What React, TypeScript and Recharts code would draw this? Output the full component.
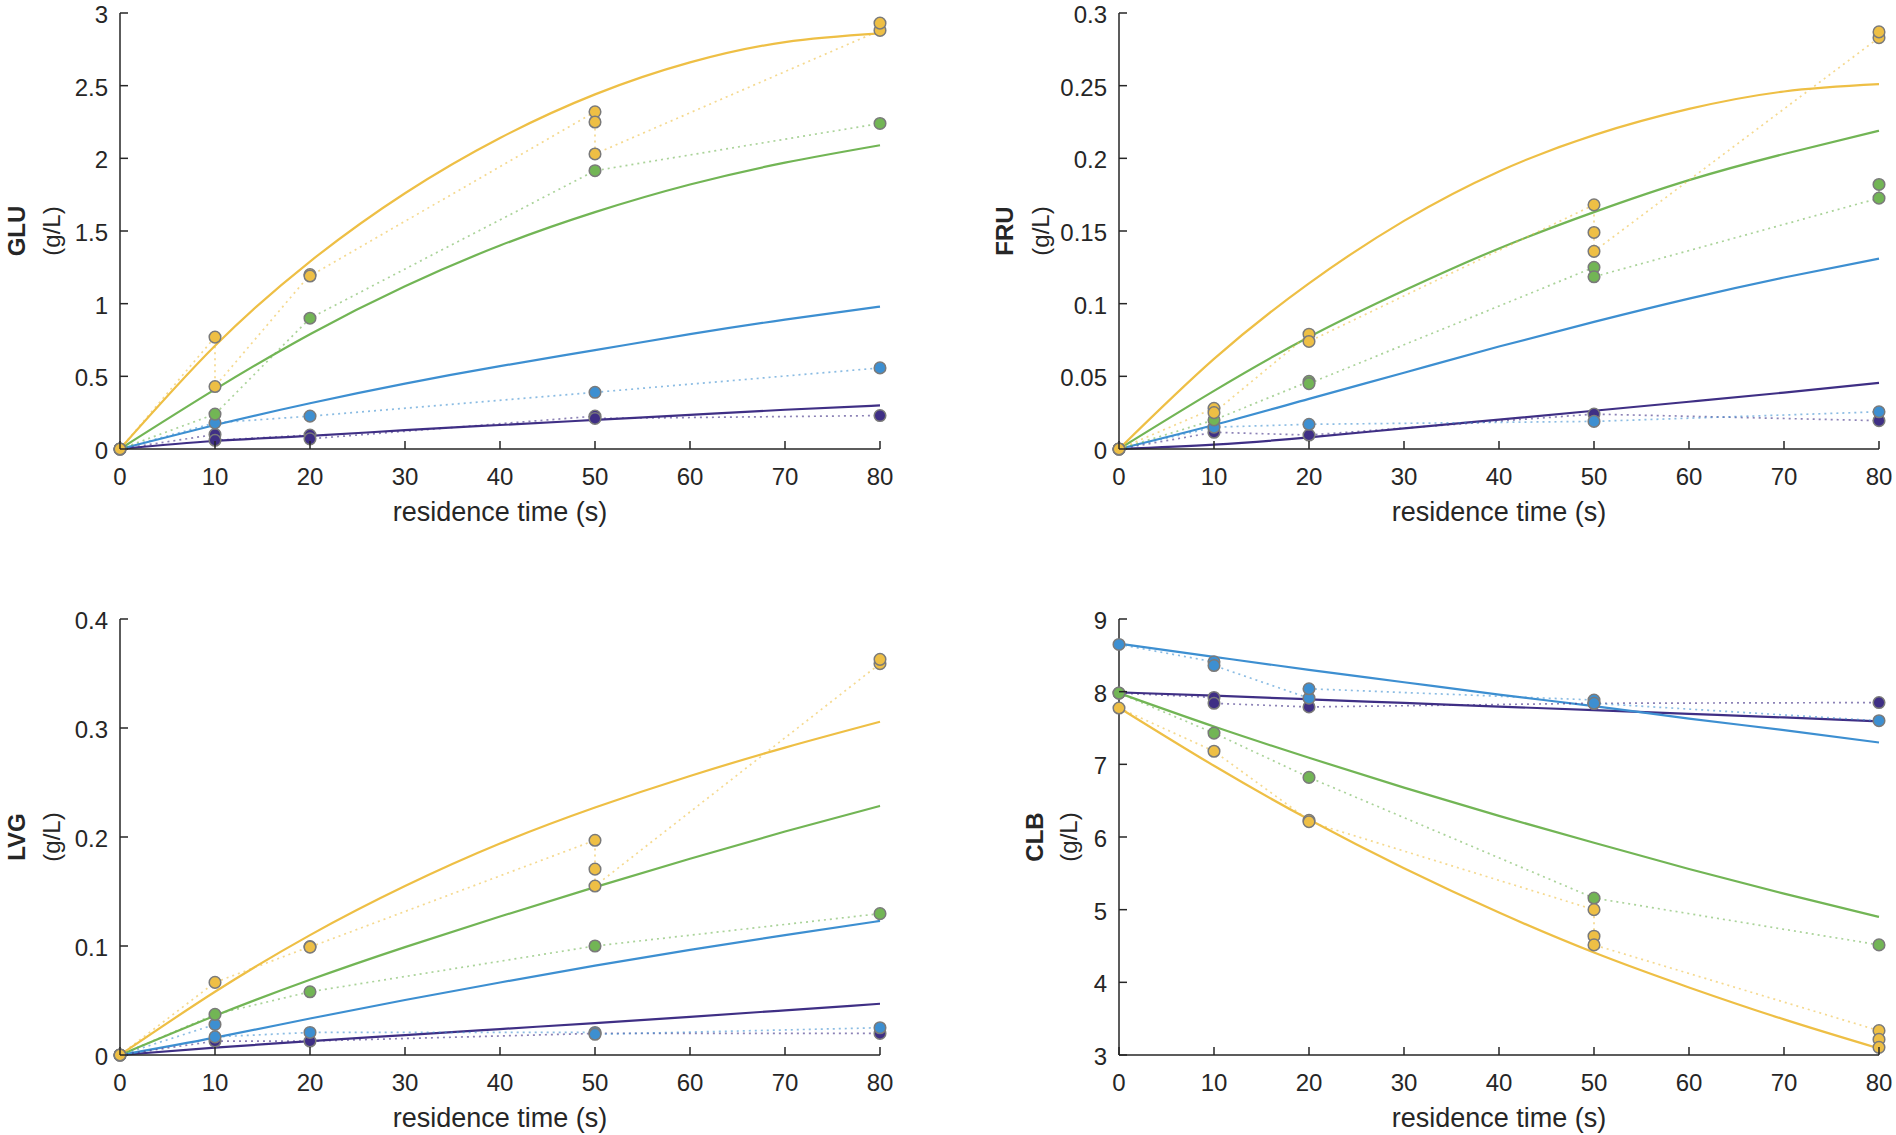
import { ComposedChart, Line, Scatter, XAxis, YAxis } from "recharts";

const FONT = "'Liberation Sans', Arial, Helvetica, sans-serif";
const INK = "#262626";

const COLORS: Record<string, string> = {
  purple: "#3F2F85",
  blue: "#3D8FD1",
  green: "#72B555",
  yellow: "#EEBF45",
};
const ORDER = ["purple", "blue", "green", "yellow"];

// model curves are read every 10 s
const fitTimes = [0, 10, 20, 30, 40, 50, 60, 70, 80];
const timeTicks = [0, 10, 20, 30, 40, 50, 60, 70, 80];

// ---- GLU ----
const gluTicks = [0, 0.5, 1, 1.5, 2, 2.5, 3];
const gluFitPurple = [0, 0.055, 0.09, 0.13, 0.165, 0.2, 0.235, 0.27, 0.3];
const gluFitBlue = [0, 0.165, 0.315, 0.45, 0.57, 0.68, 0.79, 0.89, 0.98];
const gluFitGreen = [0, 0.41, 0.79, 1.12, 1.4, 1.63, 1.82, 1.97, 2.09];
const gluFitYellow = [0, 0.71, 1.29, 1.76, 2.14, 2.44, 2.66, 2.8, 2.86];
const gluObsPurple = [[0, 0], [10, 0.1], [10, 0.06], [20, 0.096], [20, 0.07], [50, 0.226], [50, 0.21], [80, 0.23]];
const gluObsBlue = [[0, 0], [10, 0.18], [20, 0.226], [50, 0.39], [80, 0.558]];
const gluObsGreen = [[0, 0], [10, 0.24], [20, 0.9], [50, 1.915], [80, 2.24]];
const gluObsYellow = [[0, 0], [10, 0.77], [10, 0.43], [20, 1.2], [20, 1.19], [50, 2.32], [50, 2.25], [50, 2.03], [80, 2.88], [80, 2.93]];

// ---- FRU ----
const fruTicks = [0, 0.05, 0.1, 0.15, 0.2, 0.25, 0.3];
const fruFitPurple = [0, 0.003, 0.008, 0.0142, 0.0202, 0.0263, 0.0325, 0.0388, 0.0455];
const fruFitBlue = [0, 0.0165, 0.0345, 0.0525, 0.0705, 0.0875, 0.1035, 0.118, 0.131];
const fruFitGreen = [0, 0.04, 0.077, 0.109, 0.138, 0.163, 0.185, 0.203, 0.219];
const fruFitYellow = [0, 0.062, 0.114, 0.157, 0.191, 0.216, 0.234, 0.246, 0.251];
const fruObsPurple = [[0, 0], [10, 0.0115], [20, 0.0096], [50, 0.024], [80, 0.0195]];
const fruObsBlue = [[0, 0], [10, 0.015], [20, 0.017], [50, 0.019], [80, 0.0256]];
const fruObsGreen = [[0, 0], [10, 0.02], [20, 0.0465], [20, 0.045], [50, 0.125], [50, 0.1185], [80, 0.1726], [80, 0.182]];
const fruObsYellow = [[0, 0], [10, 0.028], [10, 0.025], [20, 0.079], [20, 0.074], [50, 0.168], [50, 0.149], [50, 0.136], [80, 0.283], [80, 0.287]];

// ---- LVG ----
const lvgTicks = [0, 0.1, 0.2, 0.3, 0.4];
const lvgFitPurple = [0, 0.0067, 0.0128, 0.0183, 0.0238, 0.0293, 0.035, 0.041, 0.047];
const lvgFitBlue = [0, 0.016, 0.0335, 0.0505, 0.0665, 0.082, 0.0965, 0.11, 0.123];
const lvgFitGreen = [0, 0.036, 0.069, 0.099, 0.127, 0.154, 0.18, 0.205, 0.2285];
const lvgFitYellow = [0, 0.058, 0.11, 0.155, 0.194, 0.227, 0.256, 0.282, 0.3057];
const lvgObsPurple = [[0, 0], [10, 0.0128], [20, 0.0128], [50, 0.0198], [80, 0.0198]];
const lvgObsBlue = [[0, 0], [10, 0.028], [10, 0.0166], [20, 0.0207], [50, 0.0207], [50, 0.019], [80, 0.025]];
const lvgObsGreen = [[0, 0], [10, 0.0373], [20, 0.058], [50, 0.1], [80, 0.1297]];
const lvgObsYellow = [[0, 0], [10, 0.0666], [20, 0.0994], [20, 0.099], [50, 0.197], [50, 0.1705], [50, 0.155], [80, 0.359], [80, 0.363]];

// ---- CLB ----
const clbTicks = [3, 4, 5, 6, 7, 8, 9];
const clbFitPurple = [7.99, 7.945, 7.895, 7.845, 7.795, 7.745, 7.695, 7.645, 7.59];
const clbFitBlue = [8.66, 8.48, 8.3, 8.13, 7.96, 7.8, 7.63, 7.47, 7.3];
const clbFitGreen = [7.98, 7.52, 7.09, 6.68, 6.29, 5.92, 5.56, 5.22, 4.9];
const clbFitYellow = [7.78, 6.98, 6.24, 5.57, 4.96, 4.41, 3.93, 3.49, 3.09];
const clbObsPurple = [[0, 7.98], [10, 7.92], [10, 7.84], [20, 7.79], [50, 7.84], [80, 7.85]];
const clbObsBlue = [[0, 8.65], [10, 8.41], [10, 8.36], [20, 7.91], [20, 8.04], [50, 7.885], [50, 7.84], [80, 7.6]];
const clbObsGreen = [[0, 7.98], [10, 7.43], [20, 6.82], [50, 5.16], [80, 4.515]];
const clbObsYellow = [[0, 7.775], [10, 7.18], [20, 6.23], [20, 6.21], [50, 5.0], [50, 4.635], [50, 4.515], [80, 3.335], [80, 3.215], [80, 3.105]];

const toFit = (vals: number[]) => vals.map((v, i) => ({ t: fitTimes[i], v }));
const toObs = (pts: number[][]) => pts.map(([t, v]) => ({ t, v }));

const AXIS_W = 170;

function XTick(props: any) {
  const { x, y, payload } = props;
  return (
    <g>
      <line x1={x} x2={x} y1={y} y2={y - 8} stroke={INK} strokeWidth={1.5} />
      <text x={x} y={y + 36} textAnchor="middle" fontSize={24} fontFamily={FONT} fill={INK}>
        {payload.value}
      </text>
    </g>
  );
}

function YTick(props: any) {
  const { x, y, payload } = props;
  return (
    <g>
      <line x1={x + 12} x2={x + 20} y1={y} y2={y} stroke={INK} strokeWidth={1.5} />
      <text x={x} y={y + 10} textAnchor="end" fontSize={24} fontFamily={FONT} fill={INK}>
        {payload.value}
      </text>
    </g>
  );
}

const xLabel = (props: any) => {
  const vb = props.viewBox ?? { x: AXIS_W, y: 449, width: 760, height: 90 };
  return (
    <text x={vb.x + vb.width / 2} y={vb.y + 72} textAnchor="middle" fontSize={27} fontFamily={FONT} fill={INK}>
      residence time (s)
    </text>
  );
};

const yLabel = (name: string, off: number[]) => (props: any) => {
  const vb = props.viewBox ?? { x: 0, y: 13, width: AXIS_W, height: 436 };
  const ax = vb.x + vb.width;
  const cy = vb.y + vb.height / 2;
  return (
    <g fontFamily={FONT} fill={INK}>
      <text transform={`translate(${ax + off[0]},${cy}) rotate(-90)`} textAnchor="middle" fontSize={24} fontWeight="bold">
        {name}
      </text>
      <text transform={`translate(${ax + off[1]},${cy}) rotate(-90)`} textAnchor="middle" fontSize={24}>
        (g/L)
      </text>
    </g>
  );
};

interface TPanelProps {
  name: string;
  plotLeft: number;
  top: number;
  ticks: number[];
  labelOffsets: number[];
  fits: Record<string, number[]>;
  obs: Record<string, number[][]>;
}

function Panel({ name, plotLeft, top, ticks, labelOffsets, fits, obs }: TPanelProps) {
  return (
    <div style={{ position: "absolute", left: plotLeft - AXIS_W, top }}>
      <ComposedChart width={AXIS_W + 760 + 17} height={539} margin={{ top: 13, right: 17, bottom: 0, left: 0 }}>
        <XAxis
          type="number"
          dataKey="t"
          domain={[0, 80]}
          ticks={timeTicks}
          interval={0}
          height={90}
          tickSize={0}
          tickMargin={0}
          tickLine={false}
          axisLine={{ stroke: INK, strokeWidth: 1.5 }}
          tick={<XTick />}
          label={{ content: xLabel }}
        />
        <YAxis
          type="number"
          dataKey="v"
          domain={[ticks[0], ticks[ticks.length - 1]]}
          ticks={ticks}
          interval={0}
          width={AXIS_W}
          tickSize={0}
          tickMargin={12}
          tickLine={false}
          axisLine={{ stroke: INK, strokeWidth: 1.5 }}
          tick={<YTick />}
          label={{ content: yLabel(name, labelOffsets) }}
        />
        {ORDER.map((k) => (
          <Line
            key={"fit-" + k}
            data={toFit(fits[k])}
            dataKey="v"
            type="natural"
            stroke={COLORS[k]}
            strokeWidth={2.2}
            dot={false}
            activeDot={false}
            isAnimationActive={false}
          />
        ))}
        {ORDER.map((k) => (
          <Scatter
            key={"obs-" + k}
            data={toObs(obs[k])}
            dataKey="v"
            fill={COLORS[k]}
            line={{ stroke: COLORS[k], strokeWidth: 1.7, strokeOpacity: 0.6, strokeDasharray: "2 4" }}
            lineType="joint"
            shape={(p: any) => (
              <circle cx={p.cx} cy={p.cy} r={5.8} fill={COLORS[k]} stroke="#7a7a7a" strokeWidth={1.5} />
            )}
            isAnimationActive={false}
          />
        ))}
      </ComposedChart>
    </div>
  );
}

export default function App() {
  return (
    <div
      style={{
        position: "absolute",
        left: 0,
        top: 0,
        width: 1896,
        height: 1135,
        background: "#fff",
        overflow: "hidden",
      }}
    >
      <Panel
        name="GLU"
        plotLeft={120}
        top={0}
        ticks={gluTicks}
        labelOffsets={[-95, -60]}
        fits={{ purple: gluFitPurple, blue: gluFitBlue, green: gluFitGreen, yellow: gluFitYellow }}
        obs={{ purple: gluObsPurple, blue: gluObsBlue, green: gluObsGreen, yellow: gluObsYellow }}
      />
      <Panel
        name="FRU"
        plotLeft={1119}
        top={0}
        ticks={fruTicks}
        labelOffsets={[-106, -70]}
        fits={{ purple: fruFitPurple, blue: fruFitBlue, green: fruFitGreen, yellow: fruFitYellow }}
        obs={{ purple: fruObsPurple, blue: fruObsBlue, green: fruObsGreen, yellow: fruObsYellow }}
      />
      <Panel
        name="LVG"
        plotLeft={120}
        top={606}
        ticks={lvgTicks}
        labelOffsets={[-95, -60]}
        fits={{ purple: lvgFitPurple, blue: lvgFitBlue, green: lvgFitGreen, yellow: lvgFitYellow }}
        obs={{ purple: lvgObsPurple, blue: lvgObsBlue, green: lvgObsGreen, yellow: lvgObsYellow }}
      />
      <Panel
        name="CLB"
        plotLeft={1119}
        top={606}
        ticks={clbTicks}
        labelOffsets={[-76, -42]}
        fits={{ purple: clbFitPurple, blue: clbFitBlue, green: clbFitGreen, yellow: clbFitYellow }}
        obs={{ purple: clbObsPurple, blue: clbObsBlue, green: clbObsGreen, yellow: clbObsYellow }}
      />
    </div>
  );
}
